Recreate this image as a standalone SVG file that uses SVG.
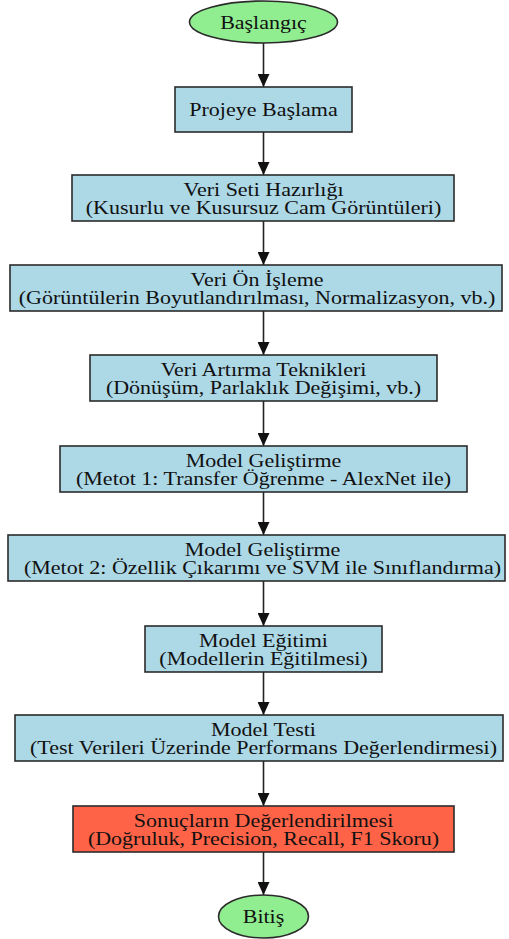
<svg xmlns="http://www.w3.org/2000/svg" width="509" height="939" viewBox="0 0 509 939">
<defs>
<style>
.box{fill:#ADD8E6;stroke:#2b2b2b;stroke-width:1.6}
.term{fill:#90EE90;stroke:#2b2b2b;stroke-width:1.6}
.res{fill:#FF6347;stroke:#2b2b2b;stroke-width:1.6}
.t{font-family:"Liberation Serif","Times New Roman","DejaVu Serif",serif;font-size:19px;fill:#111;text-anchor:middle}
.e{stroke:#222;stroke-width:1.6;fill:none}
</style>
<marker id="ah" viewBox="0 0 13 12" refX="13" refY="6" markerWidth="13" markerHeight="12" markerUnits="userSpaceOnUse" orient="auto">
<path d="M0,0 L13,6 L0,12 Z" fill="#111"/>
</marker>
</defs>
<rect width="509" height="939" fill="#fff"/>
<g id="connectors">
<line class="e" x1="263.5" y1="43" x2="263.5" y2="87" marker-end="url(#ah)"/>
<line class="e" x1="263.5" y1="132" x2="263.5" y2="175" marker-end="url(#ah)"/>
<line class="e" x1="263.5" y1="221" x2="263.5" y2="265" marker-end="url(#ah)"/>
<line class="e" x1="263.5" y1="311" x2="263.5" y2="355" marker-end="url(#ah)"/>
<line class="e" x1="263.5" y1="401" x2="263.5" y2="446" marker-end="url(#ah)"/>
<line class="e" x1="263.5" y1="492" x2="263.5" y2="535" marker-end="url(#ah)"/>
<line class="e" x1="263.5" y1="581" x2="263.5" y2="626" marker-end="url(#ah)"/>
<line class="e" x1="263.5" y1="672" x2="263.5" y2="715" marker-end="url(#ah)"/>
<line class="e" x1="263.5" y1="761" x2="263.5" y2="806" marker-end="url(#ah)"/>
<line class="e" x1="263.5" y1="852" x2="263.5" y2="895" marker-end="url(#ah)"/>
</g>
<g id="start">
<ellipse class="term" cx="263.5" cy="22" rx="74" ry="21"/>
<text class="t" font-family="Liberation Serif, serif" transform="translate(263.5,28.5) scale(1.158,1)">Başlangıç</text>
</g>
<g id="n1">
<rect class="box" x="175" y="87" width="177" height="45"/>
<text class="t" transform="translate(263.5,116) scale(1.158,1)">Projeye Başlama</text>
</g>
<g id="n2">
<rect class="box" x="72" y="175" width="382" height="46"/>
<text class="t" transform="translate(263.5,195.5) scale(1.158,1)"><tspan x="0">Veri Seti Hazırlığı</tspan><tspan x="0" dy="18.8">(Kusurlu ve Kusursuz Cam Görüntüleri)</tspan></text>
</g>
<g id="n3">
<rect class="box" x="10" y="265" width="492" height="46"/>
<text class="t" transform="translate(257,285.5) scale(1.158,1)"><tspan x="0">Veri Ön İşleme</tspan><tspan x="0" dy="18.8">(Görüntülerin Boyutlandırılması, Normalizasyon, vb.)</tspan></text>
</g>
<g id="n4">
<rect class="box" x="90" y="355" width="347" height="46"/>
<text class="t" transform="translate(263.5,375.5) scale(1.158,1)"><tspan x="0">Veri Artırma Teknikleri</tspan><tspan x="0" dy="18.8">(Dönüşüm, Parlaklık Değişimi, vb.)</tspan></text>
</g>
<g id="n5">
<rect class="box" x="60" y="446" width="407" height="46"/>
<text class="t" transform="translate(263.5,466.5) scale(1.158,1)"><tspan x="0">Model Geliştirme</tspan><tspan x="0" dy="18.8">(Metot 1: Transfer Öğrenme - AlexNet ile)</tspan></text>
</g>
<g id="n6">
<rect class="box" x="8" y="535" width="497" height="46"/>
<text class="t" transform="translate(262.5,555.5) scale(1.158,1)"><tspan x="0">Model Geliştirme</tspan><tspan x="0" dy="18.8">(Metot 2: Özellik Çıkarımı ve SVM ile Sınıflandırma)</tspan></text>
</g>
<g id="n7">
<rect class="box" x="145" y="626" width="237" height="46"/>
<text class="t" transform="translate(263.5,646.5) scale(1.158,1)"><tspan x="0">Model Eğitimi</tspan><tspan x="0" dy="18.8">(Modellerin Eğitilmesi)</tspan></text>
</g>
<g id="n8">
<rect class="box" x="15" y="715" width="488" height="46"/>
<text class="t" transform="translate(263.5,735.5) scale(1.158,1)"><tspan x="0">Model Testi</tspan><tspan x="0" dy="18.8">(Test Verileri Üzerinde Performans Değerlendirmesi)</tspan></text>
</g>
<g id="n9">
<rect class="res" x="73" y="806" width="381" height="46"/>
<text class="t" transform="translate(263.5,826.5) scale(1.158,1)"><tspan x="0">Sonuçların Değerlendirilmesi</tspan><tspan x="0" dy="18.8">(Doğruluk, Precision, Recall, F1 Skoru)</tspan></text>
</g>
<g id="end">
<ellipse class="term" cx="263.5" cy="916.5" rx="45" ry="21.5"/>
<text class="t" transform="translate(263.5,923) scale(1.158,1)">Bitiş</text>
</g>
</svg>
